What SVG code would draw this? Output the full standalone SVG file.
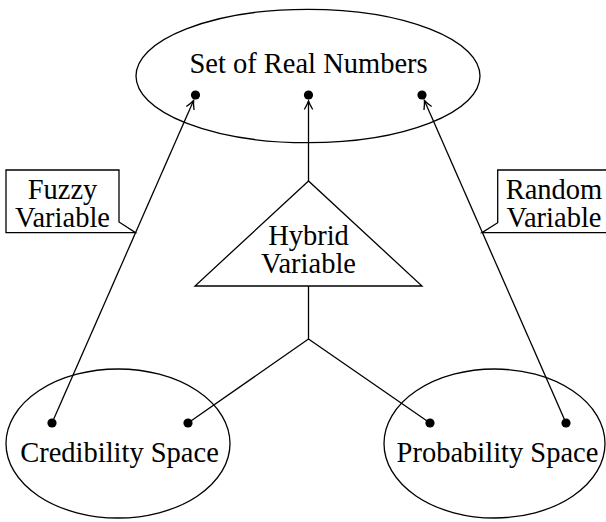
<svg xmlns="http://www.w3.org/2000/svg" width="606" height="522" viewBox="0 0 606 522">
<style>
.s{fill:none;stroke:#000;stroke-width:1.3}
.t{font-size:28.5px;fill:#000;text-anchor:middle}
.d{fill:#000}
</style>
<defs>
<marker id="arr" markerUnits="userSpaceOnUse" markerWidth="12" markerHeight="12" viewBox="-10 -6 12 12" refX="0" refY="0" orient="auto">
<path d="M-8.5,-4.2 Q-3,-1 0,0 Q-3,1 -8.5,4.2" fill="none" stroke="#000" stroke-width="1.3"/>
</marker>
</defs>
<rect width="606" height="522" fill="#fff"/>
<g id="connectors">
<line class="s" x1="52" y1="423" x2="193.6" y2="100.5" marker-end="url(#arr)"/>
<line class="s" x1="566" y1="423" x2="424.4" y2="100.5" marker-end="url(#arr)"/>
<line class="s" x1="308.5" y1="181" x2="308.5" y2="101" marker-end="url(#arr)"/>
<polyline class="s" points="188,423 308.5,339 430,423"/>
<line class="s" x1="308.5" y1="286" x2="308.5" y2="339"/>
</g>
<g font-family="Liberation Serif, DejaVu Serif, serif">
<g id="real-numbers">
<ellipse class="s" cx="308" cy="76" rx="172" ry="66.7"/>
<text class="t" x="308.5" y="73.3">Set of Real Numbers</text>
<circle class="d" cx="195.5" cy="95" r="4.6"/>
<circle class="d" cx="308.5" cy="95" r="4.6"/>
<circle class="d" cx="422" cy="95" r="4.6"/>
</g>
<g id="hybrid-variable">
<polygon class="s" points="308.5,181 195,286 422,286"/>
<text class="t" x="308.5" y="245">Hybrid</text>
<text class="t" x="308.5" y="273.3">Variable</text>
</g>
<g id="fuzzy-variable">
<path class="s" d="M6,170 H119 V222 L135.5,232.7 H6 Z"/>
<text class="t" x="62.5" y="198.7">Fuzzy</text>
<text class="t" x="62.5" y="227">Variable</text>
</g>
<g id="random-variable">
<path class="s" d="M612,170 H497.7 V222.7 L482,232.7 H612"/>
<text class="t" x="554" y="198.7">Random</text>
<text class="t" x="554" y="227">Variable</text>
</g>
<g id="credibility-space">
<ellipse class="s" cx="118" cy="443.5" rx="112" ry="74.5"/>
<text class="t" x="119.5" y="461.7">Credibility Space</text>
<circle class="d" cx="52" cy="423" r="4.6"/>
<circle class="d" cx="188" cy="423" r="4.6"/>
</g>
<g id="probability-space">
<ellipse class="s" cx="494.5" cy="443.5" rx="110.5" ry="74.5"/>
<text class="t" x="497.5" y="461.7">Probability Space</text>
<circle class="d" cx="430" cy="423" r="4.6"/>
<circle class="d" cx="566" cy="423" r="4.6"/>
</g>
</g>
</svg>
